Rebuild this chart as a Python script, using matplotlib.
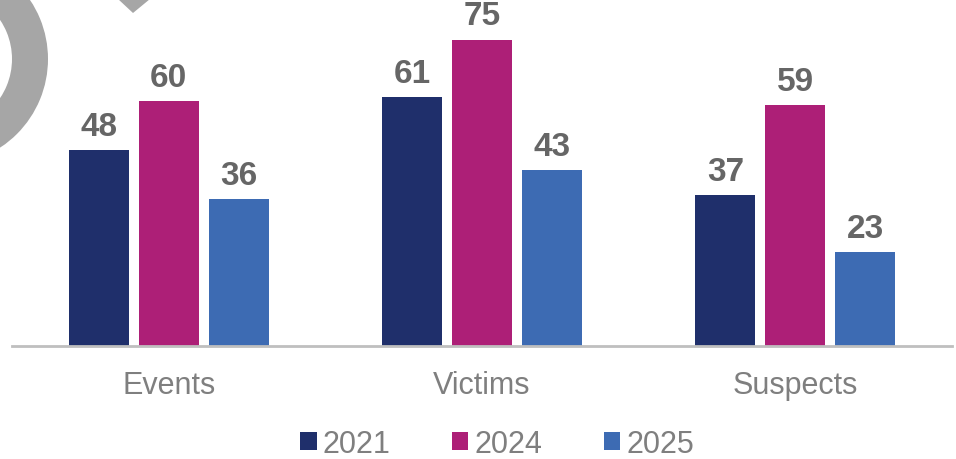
import matplotlib.pyplot as plt
import matplotlib.patches as mpatches
import numpy as np

categories = ["Events", "Victims", "Suspects"]
years = ["2021", "2024", "2025"]
values_2021 = [48, 61, 37]
values_2024 = [60, 75, 59]
values_2025 = [36, 43, 23]

colours = ["#1F2F6B", "#AD1F77", "#3D6BB3"]

plt.rcParams["font.family"] = ["Liberation Sans", "DejaVu Sans"]

W, H = 956, 460
fig = plt.figure(figsize=(W / 100, H / 100), dpi=100)

# background decoration (grey ring and chevron at the top left)
deco = fig.add_axes([0, 0, 1, 1], zorder=0)
deco.set_xlim(0, W)
deco.set_ylim(H, 0)
deco.axis("off")
deco.add_patch(mpatches.Wedge((-58, 60), 106, 0, 360, width=36, color="#A6A6A6", lw=0))
deco.add_patch(mpatches.Polygon([(118, 0), (133, 14), (150, 0)], closed=True, color="#A6A6A6", lw=0))

ax = fig.add_axes([12 / W, 113 / H, 940 / W, 347 / H], zorder=1)
ax.patch.set_alpha(0)

x = np.arange(len(categories))
width = 60 / 313.3
step = 70 / 313.3
series = [values_2021, values_2024, values_2025]

for i, (vals, col, yr) in enumerate(zip(series, colours, years)):
    bars = ax.bar(x + (i - 1) * step, vals, width, color=col, label=yr)
    ax.bar_label(bars, padding=6, fontsize=24, fontweight="bold", color="#666666")

ax.set_xlim(-0.5, 2.5)
ax.set_ylim(0, 85)
ax.set_xticks(x)
ax.set_xticklabels(categories, fontsize=22, color="#7F7F7F")
ax.tick_params(axis="x", length=0, pad=17.5)
ax.set_yticks([])
for side in ["top", "right", "left"]:
    ax.spines[side].set_visible(False)
ax.spines["bottom"].set_color("#BFBFBF")
ax.spines["bottom"].set_linewidth(2)

leg = fig.legend(
    loc="center",
    bbox_to_anchor=(497 / W, 1 - 445 / H),
    ncol=3,
    frameon=False,
    fontsize=22,
    handlelength=0.55,
    handleheight=0.55,
    handletextpad=0.2,
    columnspacing=2.0,
)
for t in leg.get_texts():
    t.set_color("#7F7F7F")

fig.savefig("out.png", dpi=100)
